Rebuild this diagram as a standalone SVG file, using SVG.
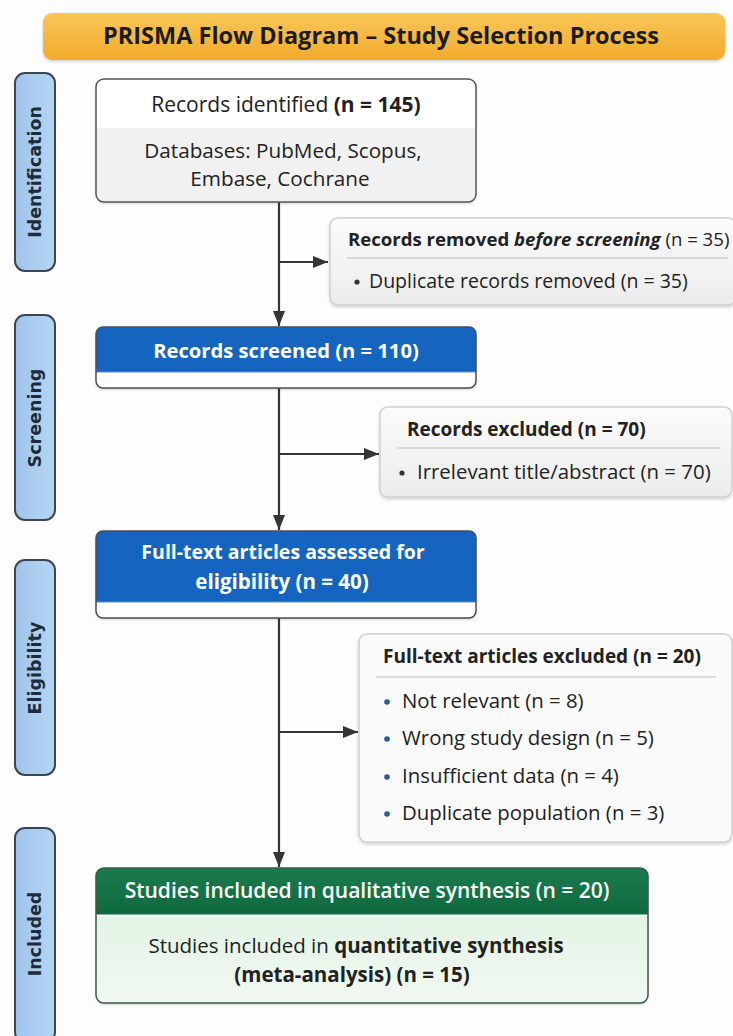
<svg xmlns="http://www.w3.org/2000/svg" width="733" height="1036" viewBox="0 0 733 1036">
<style>
  .t{font-family:"Open Sans","Noto Sans","DejaVu Sans",sans-serif;font-size:20.4px;fill:#222}
  .b{font-weight:700}
  .w{fill:#fff}
  .lab{font-family:"DejaVu Sans",sans-serif;font-weight:700;font-size:17.5px;fill:#1f2b38}
  .side{fill:url(#gSide);stroke:#3b4653;stroke-width:2}
  .gray{fill:url(#gGray);stroke:#cfcfcf;stroke-width:1.5}
  .sep{stroke:#cfcfcf;stroke-width:1.5}
  .con{fill:none;stroke:#353535;stroke-width:2.2}
  .dot{fill:#2a5a9a}
  .dk{fill:#333}
</style>
<defs>
  <linearGradient id="gBanner" x1="0" y1="0" x2="0" y2="1">
    <stop offset="0" stop-color="#f9c657"/>
    <stop offset="1" stop-color="#f2ab2e"/>
  </linearGradient>
  <linearGradient id="gSide" x1="0" y1="0" x2="1" y2="0">
    <stop offset="0" stop-color="#9fc5ec"/>
    <stop offset="1" stop-color="#b6d5f3"/>
  </linearGradient>
  <linearGradient id="gGray" x1="0" y1="0" x2="0" y2="1">
    <stop offset="0" stop-color="#fbfbfb"/>
    <stop offset="1" stop-color="#ececec"/>
  </linearGradient>
  <linearGradient id="gGreen" x1="0" y1="0" x2="0" y2="1">
    <stop offset="0" stop-color="#1b7b4e"/>
    <stop offset="1" stop-color="#0f683e"/>
  </linearGradient>
  <linearGradient id="gLightGreen" x1="0" y1="0" x2="0" y2="1">
    <stop offset="0" stop-color="#d9efdd"/>
    <stop offset="0.5" stop-color="#e6f4e8"/>
    <stop offset="1" stop-color="#f1f9f2"/>
  </linearGradient>
  <filter id="sh" x="-5%" y="-5%" width="110%" height="115%">
    <feDropShadow dx="0" dy="1.5" stdDeviation="1.5" flood-color="#000" flood-opacity="0.18"/>
  </filter>
  <marker id="arr" viewBox="0 0 15 12" refX="15" refY="6" markerWidth="15" markerHeight="12" markerUnits="userSpaceOnUse" orient="auto">
    <path d="M0,0 L15,6 L0,12 z" fill="#353535"/>
  </marker>
  <clipPath id="cBox1"><rect x="96" y="79" width="380" height="123" rx="8"/></clipPath>
  <clipPath id="cScr"><rect x="96" y="327" width="380" height="61" rx="7"/></clipPath>
  <clipPath id="cFt"><rect x="96" y="531" width="380" height="87" rx="7"/></clipPath>
  <clipPath id="cInc"><rect x="96" y="868" width="552" height="135" rx="8"/></clipPath>
</defs>

<rect width="733" height="1036" fill="#fdfdfd"/>

<g id="title">
  <rect x="43" y="13" width="682" height="47" rx="9" fill="url(#gBanner)" filter="url(#sh)"/>
  <text class="t b" x="381" y="44" text-anchor="middle" style="font-size:23.5px;fill:#1c1c1c">PRISMA Flow Diagram – Study Selection Process</text>
</g>

<g id="lane-identification">
  <rect class="side" x="15" y="73" width="40" height="198" rx="10"/>
  <text class="lab" transform="translate(41,172) rotate(-90)" text-anchor="middle">Identification</text>
</g>
<g id="lane-screening">
  <rect class="side" x="15" y="315" width="40" height="205" rx="10"/>
  <text class="lab" transform="translate(41,418) rotate(-90)" text-anchor="middle">Screening</text>
</g>
<g id="lane-eligibility">
  <rect class="side" x="15" y="560" width="40" height="215" rx="10"/>
  <text class="lab" transform="translate(41,668) rotate(-90)" text-anchor="middle">Eligibility</text>
</g>
<g id="lane-included">
  <rect class="side" x="15" y="828" width="40" height="214" rx="10"/>
  <text class="lab" transform="translate(41,934) rotate(-90)" text-anchor="middle">Included</text>
</g>

<g id="connectors">
  <path class="con" d="M279,202 V326" marker-end="url(#arr)"/>
  <path class="con" d="M279,262 H328" marker-end="url(#arr)"/>
  <path class="con" d="M279,388 V530" marker-end="url(#arr)"/>
  <path class="con" d="M279,454 H379" marker-end="url(#arr)"/>
  <path class="con" d="M279,618 V867" marker-end="url(#arr)"/>
  <path class="con" d="M279,732 H358" marker-end="url(#arr)"/>
</g>

<g id="records-identified">
  <rect x="96" y="79" width="380" height="123" rx="8" fill="#fff" filter="url(#sh)"/>
  <rect x="96" y="128" width="380" height="74" fill="#f1f1f1" clip-path="url(#cBox1)"/>
  <rect x="96" y="79" width="380" height="123" rx="8" fill="none" stroke="#555" stroke-width="1.5"/>
  <text class="t" x="286" y="112" text-anchor="middle" style="font-size:21px">Records identified <tspan class="b">(n = 145)</tspan></text>
  <text class="t" x="283" y="158" text-anchor="middle" style="font-size:20.7px">Databases: PubMed, Scopus,</text>
  <text class="t" x="280" y="186" text-anchor="middle" style="font-size:20.7px">Embase, Cochrane</text>
</g>

<g id="records-removed">
  <rect class="gray" x="330" y="218" width="406" height="87" rx="8" filter="url(#sh)"/>
  <text class="t" x="348" y="246" style="font-size:18.6px"><tspan class="b">Records removed </tspan><tspan class="b" font-style="italic">before screening</tspan> (n = 35)</text>
  <line class="sep" x1="347" y1="258" x2="728" y2="258"/>
  <circle class="dk" cx="357" cy="282" r="2.6"/>
  <text class="t" x="369" y="288" style="font-size:19.5px">Duplicate records removed (n = 35)</text>
</g>

<g id="records-screened">
  <rect x="96" y="327" width="380" height="61" rx="7" fill="#fff" filter="url(#sh)"/>
  <rect x="96" y="327" width="380" height="45" fill="#1565c0" clip-path="url(#cScr)"/>
  <line x1="96" y1="372" x2="476" y2="372" stroke="#5b8fd0" stroke-width="1"/>
  <rect x="96" y="327" width="380" height="61" rx="7" fill="none" stroke="#4a4f57" stroke-width="1.5"/>
  <text class="t b w" x="286" y="358" text-anchor="middle" style="font-size:20.2px">Records screened (n = 110)</text>
</g>

<g id="records-excluded">
  <rect class="gray" x="380" y="407" width="352" height="90" rx="8" filter="url(#sh)"/>
  <text class="t b" x="407" y="436" style="font-size:19px">Records excluded (n = 70)</text>
  <line class="sep" x1="397" y1="448" x2="720" y2="448"/>
  <circle class="dk" cx="402" cy="473" r="2.6"/>
  <text class="t" x="417" y="479">Irrelevant title/abstract (n = 70)</text>
</g>

<g id="fulltext-assessed">
  <rect x="96" y="531" width="380" height="87" rx="7" fill="#fff" filter="url(#sh)"/>
  <rect x="96" y="531" width="380" height="71" fill="#1565c0" clip-path="url(#cFt)"/>
  <line x1="96" y1="602" x2="476" y2="602" stroke="#5b8fd0" stroke-width="1"/>
  <rect x="96" y="531" width="380" height="87" rx="7" fill="none" stroke="#4a4f57" stroke-width="1.5"/>
  <text class="t b w" x="283" y="559" text-anchor="middle" style="font-size:19.5px">Full-text articles assessed for</text>
  <text class="t b w" x="282" y="589" text-anchor="middle" style="font-size:20.5px">eligibility (n = 40)</text>
</g>

<g id="fulltext-excluded">
  <rect class="gray" x="359" y="634" width="373" height="208" rx="8" filter="url(#sh)" style="fill:#fafafa"/>
  <text class="t b" x="383" y="663" style="font-size:19px">Full-text articles excluded (n = 20)</text>
  <line class="sep" x1="376" y1="677" x2="716" y2="677"/>
  <circle class="dot" cx="387" cy="702" r="2.8"/>
  <text class="t" x="402" y="708">Not relevant (n = 8)</text>
  <circle class="dot" cx="387" cy="739" r="2.8"/>
  <text class="t" x="402" y="745">Wrong study design (n = 5)</text>
  <circle class="dot" cx="387" cy="777" r="2.8"/>
  <text class="t" x="402" y="783">Insufficient data (n = 4)</text>
  <circle class="dot" cx="387" cy="814" r="2.8"/>
  <text class="t" x="402" y="820">Duplicate population (n = 3)</text>
</g>

<g id="studies-included">
  <rect x="96" y="868" width="552" height="135" rx="8" fill="url(#gLightGreen)" filter="url(#sh)"/>
  <rect x="96" y="868" width="552" height="47" fill="url(#gGreen)" clip-path="url(#cInc)"/>
  <line x1="96" y1="915.5" x2="648" y2="915.5" stroke="#f4fbf5" stroke-width="2"/>
  <rect x="96" y="868" width="552" height="135" rx="8" fill="none" stroke="#3d5a49" stroke-width="1.5"/>
  <text class="t w" x="367" y="898" text-anchor="middle" style="font-weight:600;font-size:21px">Studies included in qualitative synthesis  (n = 20)</text>
  <text class="t" x="356" y="953" text-anchor="middle" style="font-size:20.5px">Studies included in <tspan class="b">quantitative synthesis</tspan></text>
  <text class="t b" x="352" y="982" text-anchor="middle" style="font-size:20.5px">(meta-analysis) (n = 15)</text>
</g>
</svg>
